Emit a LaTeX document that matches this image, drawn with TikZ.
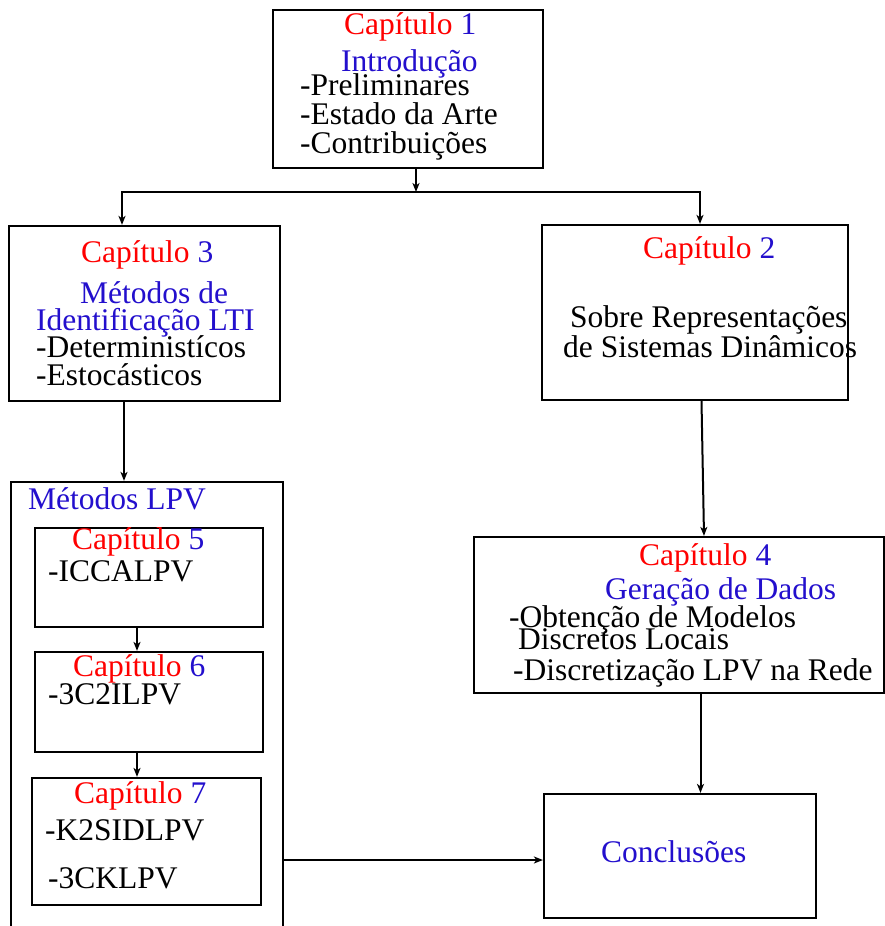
\documentclass[tikz,border=0pt]{standalone}
\usepackage{fontspec}
\setmainfont{Liberation Serif}
\usetikzlibrary{arrows.meta}
\definecolor{capblue}{RGB}{35,15,205}
\newcommand\chapline[1]{\textcolor{red}{Capítulo} \textcolor{capblue}{#1}}

\begin{document}
\begin{tikzpicture}[x=1pt,y=-1pt,
  box/.style={draw,line width=2.2pt,rectangle,inner sep=0pt},
  txt/.style={anchor=base west,inner sep=0pt,font=\fontsize{31.5}{29}\selectfont},
  ttl/.style={txt,text=capblue},
  tip/.style={-{Stealth[length=9pt,width=7pt,inset=2.5pt]}},
  conn/.style={line width=2pt,tip},
  conn2/.style={line width=2pt,{Stealth[length=9pt,width=7pt,inset=2.5pt]}-{Stealth[length=9pt,width=7pt,inset=2.5pt]}}]
\useasboundingbox (0,0) rectangle (885,926);

% chapter boxes
\node[box,minimum width=270pt,minimum height=158pt] (b1) at (408,89) {};
\node[box,minimum width=271pt,minimum height=175pt] (b3) at (144.5,313.5) {};
\node[box,minimum width=306pt,minimum height=175pt] (b2) at (695,312.5) {};
\node[box,minimum width=272pt,minimum height=458pt] (lpv) at (147,711) {};
\node[box,minimum width=228pt,minimum height=99pt] (b5) at (149,577.5) {};
\node[box,minimum width=228pt,minimum height=100pt] (b6) at (149,702) {};
\node[box,minimum width=229pt,minimum height=127pt] (b7) at (146.5,841.5) {};
\node[box,minimum width=410pt,minimum height=156pt] (b4) at (679,615) {};
\node[box,minimum width=272pt,minimum height=124pt] (concl) at (680,856) {};

% chapter 1
\node[txt] (c1) at (344,34) {\chapline{1}};
\node[ttl] (c1t) at (341,71) {Introdução};
\node[txt] (c1a) at (300,95) {-Preliminares};
\node[txt] (c1b) at (300,124) {-Estado da Arte};
\node[txt] (c1c) at (300,153) {-Contribuições};

% chapter 3
\node[txt] (c3) at (81,262) {\chapline{3}};
\node[ttl] (c3t) at (80,303) {Métodos de};
\node[ttl] (c3u) at (36,330) {Identificação LTI};
\node[txt] (c3a) at (36,357) {-Deterministícos};
\node[txt] (c3b) at (36,385) {-Estocásticos};

% chapter 2
\node[txt] (c2) at (643,258) {\chapline{2}};
\node[txt] (c2a) at (570,327) {Sobre Representações};
\node[txt] (c2b) at (563,357) {de Sistemas Dinâmicos};

% LPV methods
\node[ttl] (lpvt) at (28,509) {Métodos LPV};
\node[txt] (c5) at (72,549) {\chapline{5}};
\node[txt] (c5a) at (48,581) {-ICCALPV};
\node[txt] (c6) at (73,676) {\chapline{6}};
\node[txt] (c6a) at (48,704) {-3C2ILPV};
\node[txt] (c7) at (74,803) {\chapline{7}};
\node[txt] (c7a) at (45,840) {-K2SIDLPV};
\node[txt] (c7b) at (48,888) {-3CKLPV};

% chapter 4
\node[txt] (c4) at (639,565) {\chapline{4}};
\node[ttl] (c4t) at (605,599) {Geração de Dados};
\node[txt] (c4a) at (509,627) {-Obtenção de Modelos};
\node[txt] (c4b) at (518,649) {Discretos Locais};
\node[txt] (c4c) at (513,680) {-Discretização LPV na Rede};

% conclusions
\node[ttl] (cct) at (601,862) {Conclusões};

% connectors
\coordinate (split) at (416,192);
\coordinate (jl) at (122,192);
\coordinate (jr) at (700,192);
\coordinate (cin) at ([yshift=-4pt]concl.west);
\draw[conn] (b1.south -| split) -- (split);
\draw[conn2] (jl |- b3.north) -- (jl) -- (jr) -- (jr |- b2.north);
\draw[conn] ([xshift=-20.5pt]b3.south) -- ([xshift=-20.5pt]b3.south |- lpv.north);
\draw[conn] ([xshift=-12pt]b5.south) -- ([xshift=-12pt]b5.south |- b6.north);
\draw[conn] ([xshift=-12pt]b6.south) -- ([xshift=-12pt]b6.south |- b7.north);
\draw[conn] ([xshift=6.5pt]b2.south) -- ([xshift=25pt]b4.north);
\draw[conn] ([xshift=21.5pt]b4.south) -- ([xshift=21.5pt]b4.south |- concl.north);
\draw[conn] (lpv.east |- cin) -- (cin);
\end{tikzpicture}
\end{document}
